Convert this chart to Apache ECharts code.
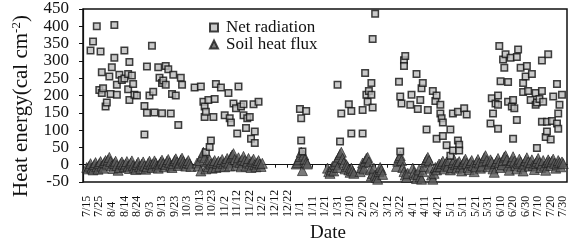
<!DOCTYPE html>
<html><head><meta charset="utf-8">
<script src="https://cdn.jsdelivr.net/npm/echarts@6/dist/echarts.min.js"></script>
<style>html,body{margin:0;padding:0;background:#fff}#c{width:570px;height:241px}</style>
</head><body><div id="c"></div>
<script>
// Tick labels every 10 days from 7/15 (day 0) to 7/30 of the next year (day 380)
const tickLabels = ['7/15','7/25','8/4','8/14','8/24','9/3','9/13','9/23','10/3','10/13','10/23','11/2','11/12','11/22','12/2','12/12','12/22','1/1','1/11','1/21','1/31','2/10','2/20','3/2','3/12','3/22','4/1','4/11','4/21','5/1','5/11','5/21','5/31','6/10','6/20','6/30','7/10','7/20','7/30'];
const tickDays = tickLabels.map((_, i) => i * 10);

// Net radiation: [day index since 7/15, cal cm-2]
const netPoints = [
 [3,330],[5,356],[8,400],[10,216],[11,327],[12,267],[12,207],[13,221],[15,168],[16,180],
 [18,255],[19,204],[20,282],[22,404],[22,309],[24,231],[24,202],[26,260],[28,245],[30,330],
 [30,249],[33,262],[33,218],[34,297],[34,187],[36,258],[37,233],[38,202],[40,200],[46,87],
 [46,170],[48,150],[48,284],[50,200],[52,344],[53,211],[54,151],[57,282],[58,251],[60,236],
 [60,149],[61,243],[63,285],[63,231],[65,276],[67,148],[68,204],[69,260],[71,200],[73,115],
 [75,251],[76,231],[86,223],
 [91,226],[93,182],[94,168],[94,138],[95,153],[95,36],[97,187],[98,51],[99,70],[101,138],
 [102,190],[103,233],[107,223],[110,143],[113,207],[114,134],[115,122],[117,177],[119,163],[120,90],
 [121,226],[123,168],[125,175],[125,143],[127,106],[128,134],[130,138],[131,75],[133,175],[134,96],
 [134,63],[137,182],
 [170,161],[171,134],[171,70],[172,38],[175,155],
 [200,231],[202,67],[203,148],[209,175],[211,155],[211,90],[220,158],[220,90],[222,265],[223,202],
 [224,182],[225,213],[227,236],[227,202],[228,363],[228,165],[230,436],[249,240],[250,197],[250,38],
 [251,177],[253,302],[253,285],[254,314],[258,173],[259,202],
 [263,262],[264,161],[266,187],[267,221],[268,236],[271,102],[272,158],[276,213],[278,184],[279,200],
 [279,75],[282,173],[282,148],[283,134],[284,122],[284,83],[287,56],[290,102],[290,26],[292,148],
 [292,41],[296,153],[296,70],[297,58],[297,41],[301,163],[303,145],
 [322,119],[323,192],[324,148],[326,177],[328,200],[328,173],[328,104],[329,343],[330,241],[332,304],
 [333,280],[334,319],[336,239],[336,182],[338,309],[339,168],[340,187],[340,75],[341,163],[343,311],
 [343,129],[344,333],[346,280],[348,236],[348,210],[350,255],[351,285],[352,213],[354,187],[355,262],
 [358,207],[358,173],[359,180],[359,48],[361,190],[363,301],[363,213],[363,124],[364,182],[366,80],
 [367,124],[367,96],[368,319],[370,73],[371,126],[372,197],[375,233],[375,119],[376,148],[376,104],
 [377,173],[379,202]
];

// Soil heat flux: daily values in segments, each starting at the given day
const soilStart = [0, 88, 167, 192, 218, 247, 260, 282];
const soilA = [-8,-12,-4,3,-10,-15,0,6,-6,-13,3,9,-4,-10,6,12,2,14,21,9,
 -3,-11,4,10,-2,-16,-8,3,8,0,-6,2,9,-4,-11,5,11,-2,-8,-14,
 1,7,-5,-11,2,8,-3,-13,-6,4,10,0,-8,3,11,5,-4,-10,2,8,
 13,4,-6,1,10,15,6,-3,-8,3,12,17,8,-2,5,14,19,10,2,-4,
 6,12,3,-5];
const soilB = [5,-4,12,-18,25,36,20,-12,8,-6,14,2,-10,6,12,-8,4,10,-5,8,
 15,3,-6,10,18,5,-4,22,28,32,15,-2,10,20,6,-6,14,24,12,-4,
 8,18,2,-8,10,16,0,-6,6,12,2,-5,4];
const soilC = [2,6,14,24,36,-17,28,16,6,2];
const soilD = [-10,-20,-25,-15,-5,-18,0,10,-8,22,30,36,18,5,-12,0,-6,-15,-22,-10,-18,-25];
const soilE = [-20,-8,5,-12,10,18,21,8,-15,-32,-25,-10,-30,-37,-42,-20,-8,-15,-28];
const soilF = [-5,10,20,26,12,-8,-20,-30,-37,-25];
const soilG = [-10,-22,-30,-40,-28,-15,-35,-42,-20,-5,8,15,21,12,-10,-30,-42,-25,-8,-15,-5,2];
const soilH = [-6,4,10,-12,2,8,-4,12,-15,-8,6,14,0,-10,4,9,-6,-18,2,10,
 16,4,-8,-14,6,12,-2,-20,-6,8,15,5,-10,-4,10,20,26,12,-6,2,
 14,8,-12,-22,4,10,18,6,-8,0,12,22,26,14,-4,-16,6,12,23,10,
 -2,-12,4,16,8,-6,-18,2,12,20,8,-4,6,14,-2,-14,4,10,18,6,
 -8,2,12,-4,-16,6,14,8,-2,10,16,4,-10,2,12,6,-6,8,3];
const soilSegs = [soilA, soilB, soilC, soilD, soilE, soilF, soilG, soilH];

const soilData = [];
soilSegs.forEach((seg, s) => seg.forEach((v, i) => soilData.push([soilStart[s] + i, v])));

const FONT = '"Liberation Serif","Times New Roman",serif';
const INK = '#111';

const chart = echarts.init(document.getElementById('c'), null, {renderer: 'canvas'});
chart.setOption({
  animation: false,
  backgroundColor: '#fff',
  grid: {left: 83, right: 3, top: 9, bottom: 59, show: true, borderColor: INK, borderWidth: 1.5},
  xAxis: [
    {type: 'value', min: -3, max: 383,
     axisLine: {show: true, onZero: true, lineStyle: {color: INK, width: 1.2}},
     axisTick: {show: true, customValues: tickDays, length: 3, lineStyle: {color: INK}},
     axisLabel: {show: false}, splitLine: {show: false}},
    {type: 'value', min: -3, max: 383, position: 'bottom',
     axisLine: {show: false, onZero: false}, axisTick: {show: false}, splitLine: {show: false},
     axisLabel: {customValues: tickDays, rotate: 90, align: 'left', margin: 35,
       showMinLabel: true, showMaxLabel: true, hideOverlap: false,
       formatter: v => tickLabels[Math.round(v / 10)], fontSize: 12, fontFamily: FONT, color: INK}}
  ],
  yAxis: {type: 'value', min: -50, max: 450, interval: 50,
    axisLine: {show: true, onZero: false, lineStyle: {color: INK, width: 1.2}},
    axisTick: {show: true, length: 4, lineStyle: {color: INK}},
    axisLabel: {fontSize: 17, fontFamily: FONT, color: INK, margin: 14},
    splitLine: {show: false}},
  legend: {data: ['Net radiation', 'Soil heat flux'], orient: 'vertical', left: 209, top: 19,
    itemWidth: 8, itemHeight: 8, itemGap: 0, padding: 0,
    textStyle: {fontSize: 17, fontFamily: FONT, color: INK, lineHeight: 17, padding: [0, 0, 0, 3]}},
  graphic: [
    {type: 'text', x: 21, y: 106, rotation: Math.PI / 2,
     style: {text: '{a|Heat energy(cal cm}{s|-2}{a|)}', textAlign: 'center', textVerticalAlign: 'middle',
       fill: INK, rich: {a: {fontSize: 21, fontFamily: FONT, fill: INK},
                         s: {fontSize: 13, fontFamily: FONT, fill: INK, verticalAlign: 'top', padding: [0, 0, 8, 0]}}}},
    {type: 'text', x: 328, y: 233,
     style: {text: 'Date', textAlign: 'center', textVerticalAlign: 'middle', fill: INK, fontSize: 19, fontFamily: FONT}}
  ],
  series: [
    {name: 'Soil heat flux', type: 'scatter', xAxisIndex: 0, symbol: 'triangle', symbolSize: 10,
     itemStyle: {color: '#5a5a5a', borderColor: '#1a1a1a', borderWidth: 0.8}, data: soilData},
    {name: 'Net radiation', type: 'scatter', xAxisIndex: 0, symbol: 'rect', symbolSize: 6.5,
     itemStyle: {color: '#bdbdbd', borderColor: '#111', borderWidth: 1.5}, data: netPoints}
  ]
});
</script>
</body></html>
